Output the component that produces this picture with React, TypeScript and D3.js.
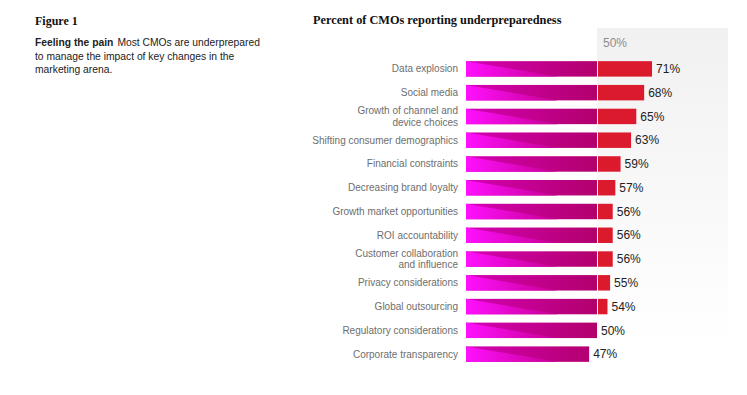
import React from "react";
import * as d3 from "d3";

// chart data
const categories = [
  "Data explosion",
  "Social media",
  "Growth of channel and|device choices",
  "Shifting consumer demographics",
  "Financial constraints",
  "Decreasing brand loyalty",
  "Growth market opportunities",
  "ROI accountability",
  "Customer collaboration|and influence",
  "Privacy considerations",
  "Global outsourcing",
  "Regulatory considerations",
  "Corporate transparency",
];
const values = [71, 68, 65, 63, 59, 57, 56, 56, 56, 55, 54, 50, 47];
const threshold = 50;

const W = 747;
const H = 395;

const sans = "'Liberation Sans', Arial, sans-serif";
const serif = "'Liberation Serif', 'DejaVu Serif', serif";

const App = () => {
  const x = d3.scaleLinear().domain([0, threshold]).range([466, 597]);
  const y = d3
    .scaleBand<string>()
    .domain(categories)
    .range([57, 366])
    .paddingInner(0.35)
    .paddingOuter(0.175);
  const bh = y.bandwidth();

  return (
    <div style={{ position: "absolute", left: 0, top: 0 }}>
      <svg width={W} height={H} style={{ display: "block", background: "#fff" }}>
        <defs>
          <linearGradient id="panel" x1="0" y1="0" x2="0" y2="1">
            <stop offset="0" stopColor="#f1f1f1" />
            <stop offset="0.5" stopColor="#f8f8f8" />
            <stop offset="1" stopColor="#ffffff" />
          </linearGradient>
          <linearGradient id="barBase" gradientUnits="userSpaceOnUse" x1={x(0)} x2={x(threshold)} y1="0" y2="0">
            <stop offset="0" stopColor="#d400b4" />
            <stop offset="1" stopColor="#b2006c" />
          </linearGradient>
          <linearGradient id="barTri" gradientUnits="userSpaceOnUse" x1={x(0)} x2={x(0) + 92} y1="0" y2="0">
            <stop offset="0" stopColor="#ff10ff" />
            <stop offset="1" stopColor="#c5008f" />
          </linearGradient>
        </defs>

        {/* grey panel behind the part above 50% */}
        <rect x={x(threshold)} y={28} width={131} height={320} fill="url(#panel)" />
        <text x={x(threshold) + 6} y={47} fontFamily={sans} fontSize={12} fill="#8c8c8c">
          50%
        </text>

        {/* left intro text */}
        <text x={35} y={25} fontFamily={serif} fontWeight="bold" fontSize={12} fill="#111">
          Figure 1
        </text>
        <text fontFamily={sans} fontSize={10.3} fill="#222">
          <tspan x={35} y={46}>
            <tspan fontWeight="bold">Feeling the pain</tspan>
            <tspan dx={4}>Most CMOs are underprepared</tspan>
          </tspan>
          <tspan x={35} y={59.5}>to manage the impact of key changes in the</tspan>
          <tspan x={35} y={73}>marketing arena.</tspan>
        </text>

        <text x={313} y={24} fontFamily={serif} fontWeight="bold" fontSize={12.3} fill="#111">
          Percent of CMOs reporting underpreparedness
        </text>

        {categories.map((c, i) => {
          const v = values[i];
          const y0 = y(c) as number;
          const cy = y0 + bh / 2;
          const lines = c.split("|");
          const xEnd = x(Math.min(v, threshold));
          const triW = Math.min(92, xEnd - x(0));
          return (
            <g key={c}>
              <text textAnchor="end" fontFamily={sans} fontSize={10} fill="#6e6e6e">
                {lines.map((l, k) => (
                  <tspan key={k} x={458} y={cy + (k - (lines.length - 1) / 2) * 11.5} dy="0.35em">
                    {l}
                  </tspan>
                ))}
              </text>
              <rect x={x(0)} y={y0} width={xEnd - x(0)} height={bh} fill="url(#barBase)" />
              <polygon
                points={`${x(0)},${y0} ${x(0) + triW},${y0 + bh} ${x(0)},${y0 + bh}`}
                fill="url(#barTri)"
              />
              {v > threshold && (
                <rect x={x(threshold) + 1} y={y0} width={x(v) - x(threshold) - 1} height={bh} fill="#dc1a2e" />
              )}
              <text x={x(v) + 4} y={cy} dy="0.35em" fontFamily={sans} fontSize={12} fill="#222">
                {v}%
              </text>
            </g>
          );
        })}
      </svg>
    </div>
  );
};

export default App;
